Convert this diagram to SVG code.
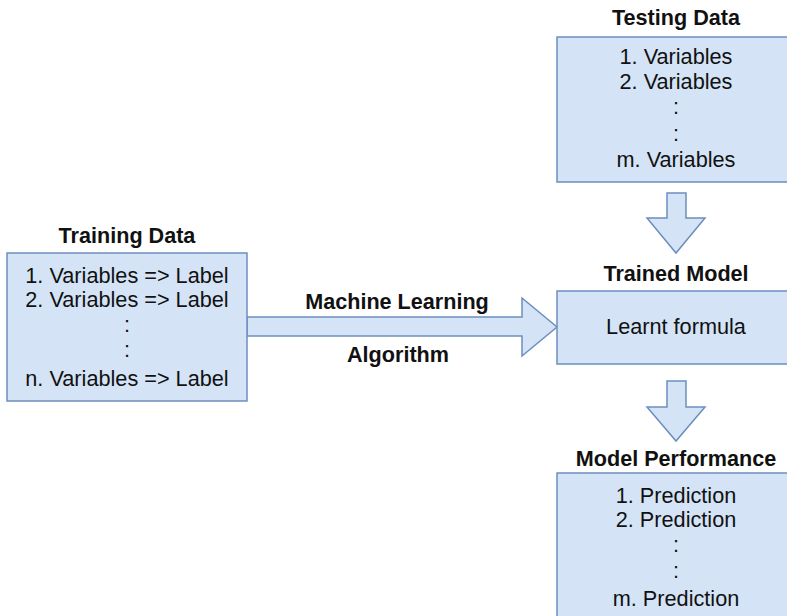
<svg xmlns="http://www.w3.org/2000/svg" width="787" height="616" viewBox="0 0 787 616">
<style>
.box{fill:#d4e4f6;stroke:#6c8ebf;stroke-width:1.5}
.arr{fill:#d4e4f6;stroke:#6c8ebf;stroke-width:1.5;stroke-linejoin:miter}
.t{font-family:"Liberation Sans",Arial,sans-serif;font-size:21.7px;fill:#111;text-anchor:middle}
.b{font-family:"Liberation Sans",Arial,sans-serif;font-size:21.6px;font-weight:bold;fill:#111;text-anchor:middle}
</style>
<rect width="787" height="616" fill="#ffffff"/>
<g id="connectors">
<polygon class="arr" points="247,317 522,317 522,298 557,327 522,356 522,336 247,336"/>
<polygon class="arr" points="667,193 686,193 686,218 705,218 676,253 647,218 667,218"/>
<polygon class="arr" points="667,381 686,381 686,407 705,407 676,441 647,407 667,407"/>
<text class="b" x="397" y="309">Machine Learning</text>
<text class="b" x="398" y="362">Algorithm</text>
</g>
<g id="training-data">
<text class="b" x="127" y="243">Training Data</text>
<rect class="box" x="7" y="253" width="240" height="148"/>
<text class="t" x="127" y="283">1. Variables =&gt; Label</text>
<text class="t" x="127" y="307">2. Variables =&gt; Label</text>
<text class="t" x="127" y="332">:</text>
<text class="t" x="127" y="357">:</text>
<text class="t" x="127" y="386">n. Variables =&gt; Label</text>
</g>
<g id="testing-data">
<text class="b" x="676" y="25">Testing Data</text>
<rect class="box" x="557" y="37" width="240" height="145"/>
<text class="t" x="676" y="64">1. Variables</text>
<text class="t" x="676" y="89">2. Variables</text>
<text class="t" x="676" y="114">:</text>
<text class="t" x="676" y="141">:</text>
<text class="t" x="676" y="167">m. Variables</text>
</g>
<g id="trained-model">
<text class="b" x="676" y="281">Trained Model</text>
<rect class="box" x="557" y="291" width="240" height="73"/>
<text class="t" x="676" y="334">Learnt formula</text>
</g>
<g id="model-performance">
<text class="b" x="676" y="466">Model Performance</text>
<rect class="box" x="557" y="473" width="240" height="160"/>
<text class="t" x="676" y="503">1. Prediction</text>
<text class="t" x="676" y="527">2. Prediction</text>
<text class="t" x="676" y="552">:</text>
<text class="t" x="676" y="578">:</text>
<text class="t" x="676" y="606">m. Prediction</text>
</g>
</svg>
